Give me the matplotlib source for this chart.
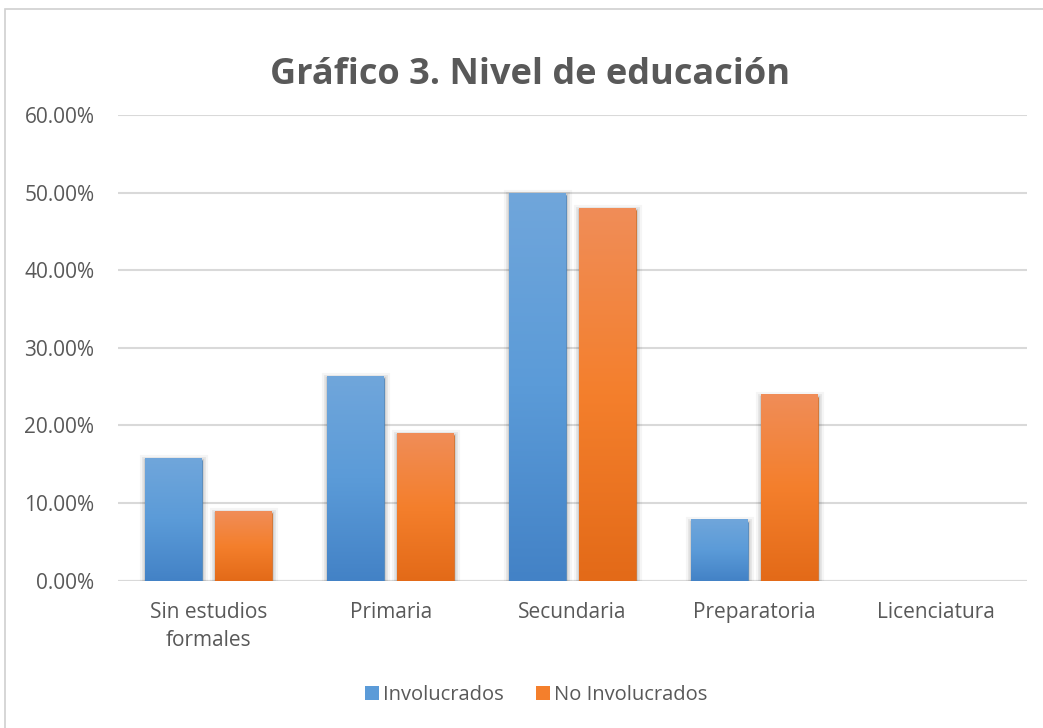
import numpy as np
import matplotlib
matplotlib.use("Agg")
import matplotlib.pyplot as plt
from matplotlib import patheffects as pe
from matplotlib.colors import LinearSegmentedColormap
from matplotlib.patches import Rectangle, Patch
from matplotlib.ticker import FuncFormatter

# data (fractions)
categories = ["Sin estudios\nformales", "Primaria", "Secundaria", "Preparatoria", "Licenciatura"]
involucrados = [0.1579, 0.2632, 0.50, 0.0789, 0.0]
no_involucrados = [0.09, 0.19, 0.48, 0.24, 0.0]
series_names = ["Involucrados", "No Involucrados"]

plt.rcParams['font.family'] = ['Open Sans', 'DejaVu Sans']
txt = '#595959'
grid_c = '#d9d9d9'

W, H = 1043, 728
fig = plt.figure(figsize=(W/100, H/100), dpi=100)
fig.patch.set_facecolor('white')

# outer chart frame
fig.add_artist(Rectangle((5/W, -0.1), 1.2, (H-9)/H + 0.1, transform=fig.transFigure,
                         fill=False, edgecolor='#d0d0d0', linewidth=1.2))

ax = fig.add_axes([118/W, 147.3/H, 909/W, 465.7/H])
ax.set_facecolor('none')

x = np.arange(len(categories))
bw = 0.3135
off = 0.1925

# gradient colours (top -> bottom)
blue_cm = LinearSegmentedColormap.from_list('b', ['#4382c6', '#5b9bd8', '#70a6db'])
orange_cm = LinearSegmentedColormap.from_list('o', ['#e36a18', '#f47f2c', '#f08d58'])

shadow = [pe.Stroke(linewidth=8, foreground=(0, 0, 0, 0.04), offset=(0, -1.5)),
          pe.Stroke(linewidth=5, foreground=(0, 0, 0, 0.06), offset=(0, -1.5)),
          pe.Stroke(linewidth=2.5, foreground=(0, 0, 0, 0.10), offset=(0, -1.5)),
          pe.Normal()]

grad = np.linspace(0, 1, 256).reshape(-1, 1)
for vals, cm, sign in [(involucrados, blue_cm, -1), (no_involucrados, orange_cm, 1)]:
    bars = ax.bar(x + sign*off, vals, bw, color=cm(0.5), edgecolor='none', zorder=3)
    for b in bars:
        if b.get_height() <= 0:
            b.set_visible(False)
            continue
        b.set_path_effects(shadow)
        bx, by = b.get_x(), b.get_y()
        im = ax.imshow(grad, cmap=cm, origin='lower', aspect='auto',
                       extent=[bx, bx + b.get_width(), by, by + b.get_height()], zorder=4)
        im.set_clip_path(b)

ax.set_xlim(-0.5, len(categories) - 0.5)
ax.set_ylim(0, 0.6)
ax.set_yticks(np.arange(0, 0.61, 0.1))
ax.yaxis.set_major_formatter(FuncFormatter(lambda v, p: f"{v*100:.2f}%"))
ax.set_xticks(x)
ax.set_xticklabels(categories, linespacing=1.45)
ax.grid(axis='y', color=grid_c, linewidth=1.5, zorder=0)
ax.set_axisbelow(True)
for s in ax.spines.values():
    s.set_visible(False)
ax.axhline(0, color=grid_c, linewidth=1.5, zorder=2)
ax.tick_params(axis='y', length=0, pad=17, labelsize=15, labelcolor=txt)
ax.tick_params(axis='x', length=0, pad=15, labelsize=15, labelcolor=txt)

fig.text(530/W, 1 - 75/H, "Gráfico 3. Nivel de educación", ha='center', va='center',
         fontsize=26, fontweight='bold', color=txt)

handles = [Patch(facecolor=blue_cm(0.5)), Patch(facecolor=orange_cm(0.5))]
fig.legend(handles, series_names, loc='center', bbox_to_anchor=(536/W, 1 - 695/H),
           ncol=2, frameon=False, fontsize=14.5, labelcolor=txt,
           handlelength=0.7, handleheight=0.7, handletextpad=0.2, columnspacing=1.6)

fig.savefig("out.png", dpi=100, facecolor='white')
